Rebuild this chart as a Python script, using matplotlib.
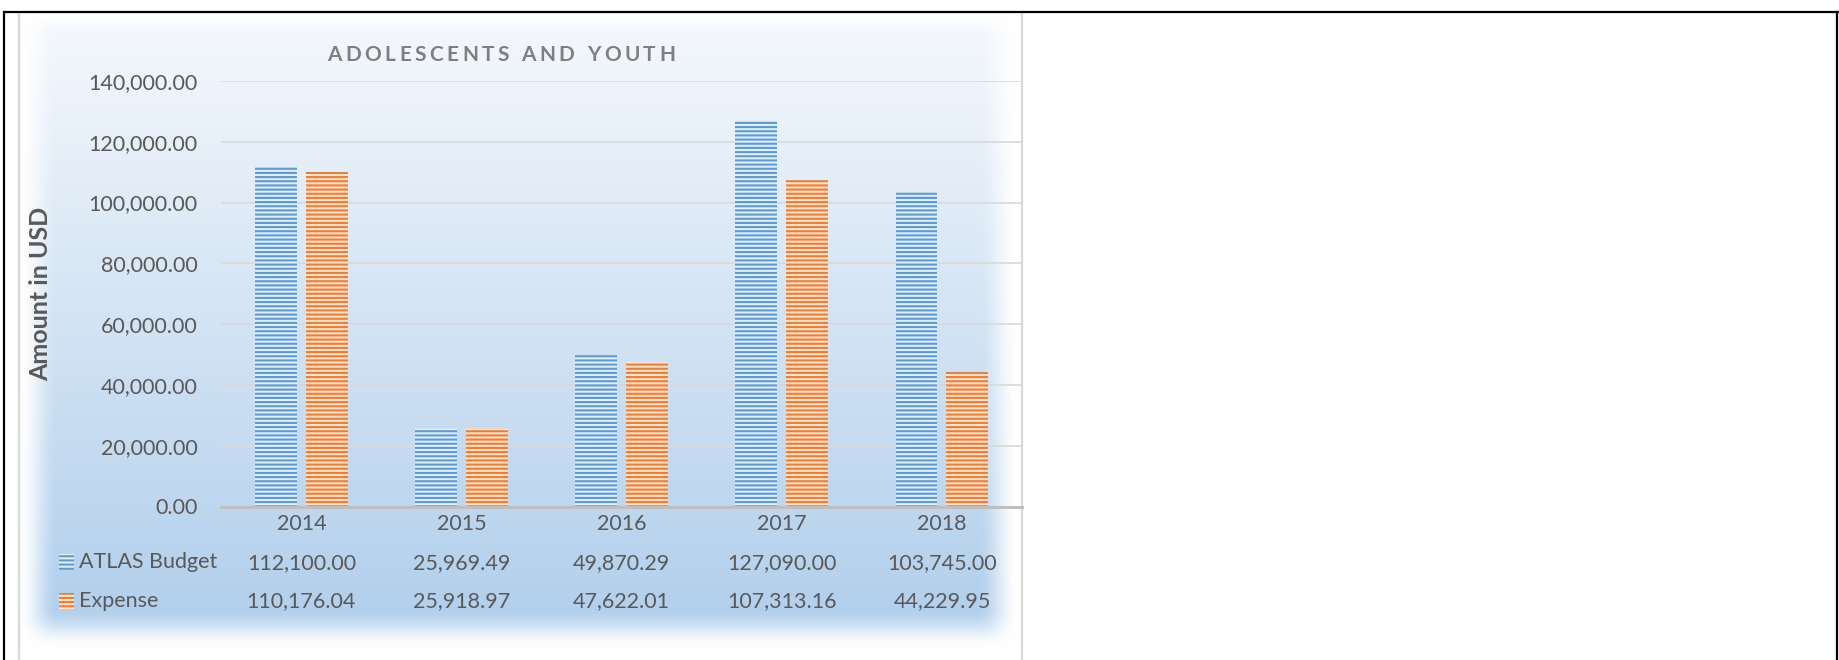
import numpy as np
import matplotlib.pyplot as plt
from matplotlib.patches import Rectangle

plt.rcParams['font.family'] = ['Lato', 'DejaVu Sans']
plt.rcParams['hatch.linewidth'] = 1.5

# -------------------------- data --------------------------
years = ['2014', '2015', '2016', '2017', '2018']
atlas_budget = [112100.00, 25969.49, 49870.29, 127090.00, 103745.00]
expense = [110176.04, 25918.97, 47622.01, 107313.16, 44229.95]
series_names = ['ATLAS Budget', 'Expense']
y_ticks = [0, 20000, 40000, 60000, 80000, 100000, 120000, 140000]
title = 'ADOLESCENTS AND YOUTH'

# -------------------------- styles --------------------------
stripe_col = {'ATLAS Budget': '#5b9bd5', 'Expense': '#ed7d31'}
face_col = {'ATLAS Budget': '#e3eef9', 'Expense': '#fde3d0'}
text_col = '#595959'
fs = 15.5

W, H = 1839, 660
fig = plt.figure(figsize=(W / 100, H / 100), dpi=100)

# background layer, pixel coordinates
bg = fig.add_axes([0, 0, 1, 1])
bg.set_xlim(0, W)
bg.set_ylim(H, 0)
bg.axis('off')

cx0, cx1, cy0, cy1 = 19, 1022, 13, 660
ys = np.arange(cy0, cy1)
xs = np.arange(cx0, cx1)
top = np.array([0.960, 0.973, 0.990])
bot = np.array([0.700, 0.815, 0.925])
t = np.clip((ys - 20) / 590.0, 0, 1)[:, None, None]
rgb = top * (1 - t) + bot * t
rgb = np.broadcast_to(rgb, (len(ys), len(xs), 3))


def smooth(v):
    v = np.clip(v, 0, 1)
    return v * v * (3 - 2 * v)


mx = smooth((xs - cx0) / 38.0) * smooth((cx1 - 4 - xs) / 40.0)
my = smooth((648 - ys) / 40.0) * smooth((ys - cy0) / 20.0)
alpha = (my[:, None] * mx[None, :])[..., None]
img = rgb * alpha + (1 - alpha)
bg.imshow(img, extent=(cx0, cx1, cy1, cy0), aspect='auto', interpolation='bilinear', zorder=0)

# chart border and outer frame
bg.plot([cx0, cx0], [cy0, H], color='#d9d9d9', lw=1.6, zorder=1)
bg.plot([cx1, cx1], [cy0, H], color='#d9d9d9', lw=1.6, zorder=1)
bg.plot([4, 4], [12, H], color='black', lw=1.6, zorder=2)
bg.plot([4, 1838], [12, 12], color='black', lw=1.6, zorder=2)
bg.plot([1837.5, 1837.5], [12, H], color='black', lw=1.6, zorder=2)

# -------------------------- main axes --------------------------
ax = fig.add_axes([221.4 / W, (H - 506.5) / H, 800.6 / W, 425.5 / H])
ax.patch.set_alpha(0)
x = np.arange(len(years))
bw = 0.262
off = 0.159
ax.bar(x - off, atlas_budget, bw, facecolor=face_col['ATLAS Budget'],
       edgecolor=stripe_col['ATLAS Budget'], hatch='----', linewidth=0, zorder=3)
ax.bar(x + off, expense, bw, facecolor=face_col['Expense'],
       edgecolor=stripe_col['Expense'], hatch='----', linewidth=0, zorder=3)

ax.set_xlim(-0.5, len(years) - 0.5)
ax.set_ylim(0, 140000)
ax.set_yticks(y_ticks)
ax.set_yticklabels(['{:,.2f}'.format(v) for v in y_ticks])
ax.tick_params(axis='y', length=0, pad=17, labelsize=fs, labelcolor=text_col)
ax.set_xticks([])
ax.yaxis.grid(True, color='#d9d9d9', lw=1.2)
ax.set_axisbelow(True)
for s in ['top', 'left', 'right']:
    ax.spines[s].set_visible(False)
ax.spines['bottom'].set_color('#bfbfbf')
ax.spines['bottom'].set_linewidth(2.2)
ax.spines['bottom'].set_zorder(4)

# data table under the axis
tr = ax.get_xaxis_transform()
for i, yr in enumerate(years):
    ax.text(i, -0.0423, yr, transform=tr, ha='center', va='center', fontsize=fs, color=text_col)
    ax.text(i, -0.1328, '{:,.2f}'.format(atlas_budget[i]), transform=tr, ha='center', va='center',
            fontsize=fs, color=text_col)
    ax.text(i, -0.2221, '{:,.2f}'.format(expense[i]), transform=tr, ha='center', va='center',
            fontsize=fs, color=text_col)

# legend keys in the table
for name, yc in zip(series_names, [562, 601]):
    bg.add_patch(Rectangle((59, yc - 8), 15, 16, facecolor=face_col[name],
                           edgecolor=stripe_col[name], hatch='----', linewidth=0, zorder=3))
    bg.text(79, yc, name, ha='left', va='center', fontsize=fs, color=text_col, zorder=3)

# axis title
fig.text(41 / W, (H - 294) / H, 'Amount in USD', rotation=90, ha='center', va='center',
         fontsize=18, fontweight='bold', color=text_col)

# chart title with expanded letter spacing
r = fig.canvas.get_renderer()
tkw = dict(fontsize=15, fontweight='bold', color='#7f7f7f')


def advance(ch):
    a = bg.text(0, 0, 'n' + ch + 'n', **tkw)
    b = bg.text(0, 0, 'nn', **tkw)
    w = a.get_window_extent(r).width - b.get_window_extent(r).width
    a.remove()
    b.remove()
    return w


advs = [advance(c) for c in title]
target_w = 348
gap = max(0.0, (target_w - sum(advs)) / (len(title) - 1))
xpos = 501 - (sum(advs) + gap * (len(title) - 1)) / 2
for c, a in zip(title, advs):
    if c != ' ':
        bg.text(xpos, 55, c, ha='left', va='center', zorder=3, **tkw)
    xpos += a + gap

fig.savefig('out.png', dpi=100)
